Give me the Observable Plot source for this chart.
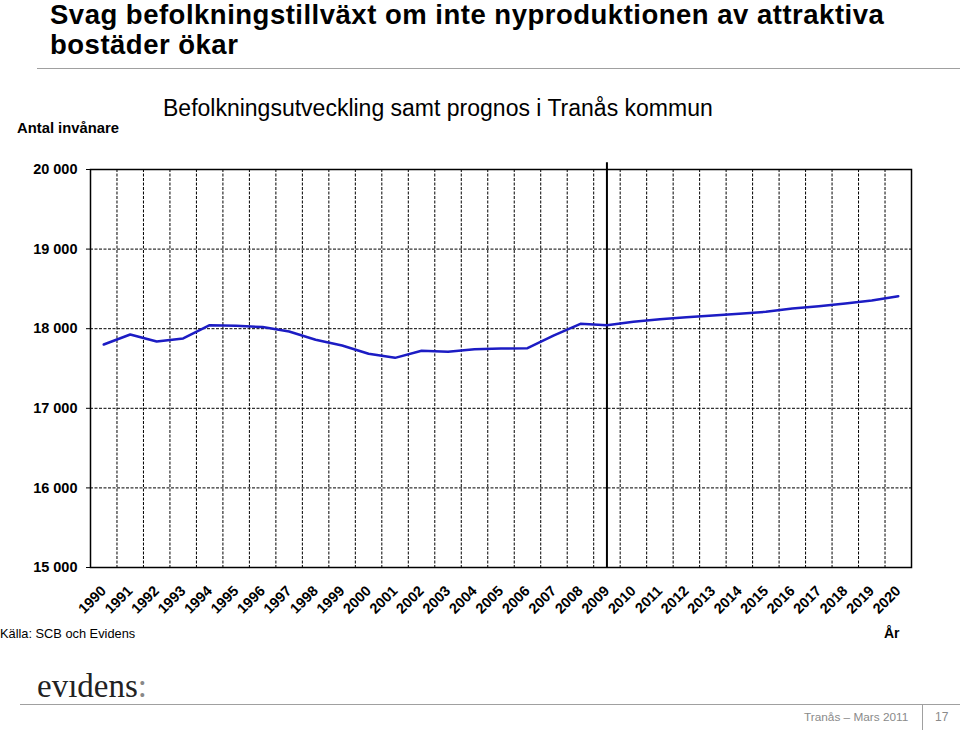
<!DOCTYPE html>
<html><head><meta charset="utf-8">
<script src="https://cdn.jsdelivr.net/npm/d3@7"></script>
<script src="https://cdn.jsdelivr.net/npm/@observablehq/plot@0.6"></script>
<style>
body{margin:0;background:#fff;font-family:"Liberation Sans",Arial,sans-serif}
#page{position:relative;width:960px;height:730px;overflow:hidden;background:#fff}
.abs{position:absolute;white-space:nowrap;color:#000}
.ttl{font-size:27.5px;letter-spacing:0.5px;font-weight:bold;line-height:30px}
#chart{position:absolute;left:0;top:150px}
</style></head><body><div id="page">
<div class="abs ttl" style="left:50px;top:0px">Svag befolkningstillväxt om inte nyproduktionen av attraktiva</div>
<div class="abs ttl" style="left:50px;top:29.5px">bostäder ökar</div>
<div class="abs" style="left:37px;top:68px;width:923px;height:1px;background:#a0a0a0"></div>
<div class="abs" style="left:163px;top:95px;font-size:23px;line-height:26px">Befolkningsutveckling samt prognos i Tranås kommun</div>
<div class="abs" style="left:17px;top:119px;font-size:14.8px;font-weight:bold;line-height:18px">Antal invånare</div>
<div id="chart"></div>
<div class="abs" style="left:0px;top:626px;font-size:12.8px;line-height:16px">Källa: SCB och Evidens</div>
<div class="abs" style="left:884px;top:624px;font-size:14px;font-weight:bold;line-height:18px">År</div>
<div class="abs" style="left:37px;top:668px;font-size:33px;line-height:36px;font-family:'Liberation Serif','DejaVu Serif',serif;color:#222">evıdens<span style="color:#888">:</span></div>
<div class="abs" style="left:20px;top:704px;width:940px;height:1px;background:#a0a0a0"></div>
<div class="abs" style="left:804px;top:710px;font-size:11.8px;line-height:14px;color:#8a8a8a;font-family:'Liberation Sans Narrow','Liberation Sans',sans-serif">Tranås – Mars 2011</div>
<div class="abs" style="left:922px;top:705px;width:1px;height:25px;background:#a0a0a0"></div>
<div class="abs" style="left:935px;top:710px;font-size:12px;line-height:14px;color:#8a8a8a;font-family:'Liberation Sans Narrow','Liberation Sans',sans-serif">17</div>
</div>
<script>
const years = [1990,1991,1992,1993,1994,1995,1996,1997,1998,1999,2000,2001,2002,2003,2004,2005,2006,2007,2008,2009,2010,2011,2012,2013,2014,2015,2016,2017,2018,2019,2020];
const population = [17802,17927,17839,17877,18044,18036,18020,17965,17861,17789,17685,17634,17722,17709,17743,17751,17755,17915,18061,18044,18086,18119,18144,18166,18187,18212,18254,18283,18317,18354,18408];
const yTicks = [15000,16000,17000,18000,19000,20000];
const gridY = [16000,17000,18000,19000];
const prognosisStart = 2009;

const data = years.map((y,i)=>({year:y, value:population[i]}));
const bounds = years.slice(0,-1).map(y=>y+0.5);
const fmt = d => d3.format(",")(d).replace(/,/g," ");

const chart = Plot.plot({
  width: 960, height: 470,
  marginLeft: 90, marginRight: 49, marginTop: 19, marginBottom: 53,
  style: {fontFamily: "'Liberation Sans', Arial, sans-serif", overflow: "visible", background: "transparent"},
  x: {domain: [1989.5, 2020.5], axis: null},
  y: {domain: [15000, 20000]},
  marks: [
    Plot.ruleY(gridY, {stroke: "#000", strokeWidth: 1, strokeDasharray: "3,1.5"}),
    Plot.ruleX(bounds, {stroke: "#000", strokeWidth: 1, strokeDasharray: "3,1.5"}),
    Plot.frame({stroke: "#000", strokeWidth: 1.5}),
    Plot.ruleX([prognosisStart], {y1: 14990, y2: 20085, stroke: "#000", strokeWidth: 2}),
    Plot.line(data, {x: "year", y: "value", stroke: "#1c1cc4", strokeWidth: 2.5}),
    Plot.axisY({ticks: yTicks, tickSize: 4, tickPadding: 9, tickFormat: fmt, fontWeight: "bold", fontSize: 14.5, label: null, stroke: "#000"}),
    Plot.text(years, {x: d=>d, y: 15000, text: d=>String(d), rotate: -45, textAnchor: "end", dx: 0, dy: 21, fontWeight: "bold", fontSize: 14.5, fill: "#000"})
  ]
});
document.getElementById("chart").appendChild(chart);
</script>
</body></html>
